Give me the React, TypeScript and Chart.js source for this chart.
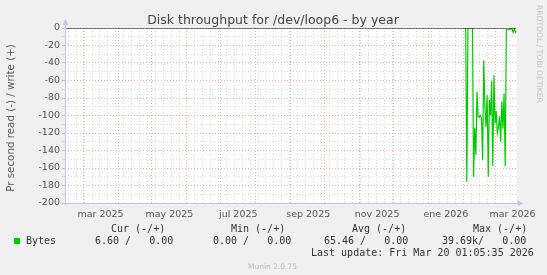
import React, { useEffect, useRef } from 'react';
import { Chart, registerables } from 'chart.js';

Chart.register(...registerables);

// ---- texts ----
const TITLE = 'Disk throughput for /dev/loop6 - by year';
const Y_LABEL = 'Pr second read (-) / write (+)';
const SIDE_TEXT = 'RRDTOOL / TOBI OETIKER';
const FOOTER = 'Munin 2.0.75';
const LAST_UPDATE = 'Last update: Fri Mar 20 01:05:35 2026';
const SERIES_NAME = 'Bytes';
const LEGEND_HEADERS = ['Cur (-/+)', 'Min (-/+)', 'Avg (-/+)', 'Max (-/+)'];
const LEGEND_VALUES = ['6.60 /   0.00', '0.00 /   0.00', '65.46 /   0.00', '39.69k/   0.00'];

// ---- x axis: days since graph start (2025-02-13 01:05), 400-day window ----
const X_MIN = 0;
const X_MAX = 400;
const monthStartDays = [16, 47, 77, 108, 138, 169, 200, 230, 261, 291, 322, 353, 381];
const monthLabelDays = [31.5, 92.5, 153.5, 215.5, 276.5, 337.5, 396.5];
const monthLabels = ['mar 2025', 'may 2025', 'jul 2025', 'sep 2025', 'nov 2025', 'ene 2026', 'mar 2026'];
const firstWeekDay = 3;

// ---- y axis ----
const Y_MIN = -200;
const Y_MAX = 0;
const Y_STEP = 10;
const Y_LABEL_STEP = 20;

// ---- series (read is drawn negative) ----
const readDays = [
  355, 356, 357, 358, 359, 360, 361, 362, 363, 364, 365, 366, 367, 368, 369, 370,
  371, 372, 373, 374, 375, 376, 377, 378, 379, 380, 381, 382, 383, 384, 385, 386,
  387, 388, 389, 390, 391, 392, 393, 394, 395, 396, 397, 398, 399, 400,
];
const readValues = [
  0, -176, 0, 0, 0, 0, 0, -170, -114, -145, -73, -101, -102, -100, -103, -151,
  -37, -90, -113, -77, -170, -82, -100, -61, -158, -54, -109, -95, -120, -113, -101, -130,
  -84, -115, -75, -158, -2, -2, -2, -2, -1, -1, -5, -1, -5, -3,
];
const zeroLineDays = [X_MIN, X_MAX];
const zeroLineValues = [0, 0];

const GREEN = '#00CC00';
const MAJOR_GRID = 'rgba(235,140,140,0.7)';
const MINOR_GRID = 'rgba(195,195,195,0.6)';
const AXIS = '#C4C4F0';
const TEXT = '#555555';
const SANS = "'DejaVu Sans', sans-serif";
const MONO = "'DejaVu Sans Mono', monospace";

type XTick = { value: number; kind: 'month' | 'week' | 'label' };

function buildXTicks(): XTick[] {
  const ticks: XTick[] = [];
  const monthSet = new Set(monthStartDays);
  for (let d = firstWeekDay; d <= X_MAX; d += 7) {
    if (!monthSet.has(d)) ticks.push({ value: d, kind: 'week' });
  }
  monthStartDays.forEach((d) => ticks.push({ value: d, kind: 'month' }));
  monthLabelDays.forEach((d) => ticks.push({ value: d, kind: 'label' }));
  ticks.sort((a, b) => a.value - b.value);
  return ticks;
}

const decorPlugin = {
  id: 'decor',
  beforeDraw(chart: any) {
    const { ctx, chartArea: a } = chart;
    ctx.save();
    ctx.fillStyle = '#F0F0F0';
    ctx.fillRect(0, 0, chart.width, chart.height);
    ctx.fillStyle = '#FFFFFF';
    ctx.fillRect(a.left, a.top, a.right - a.left, a.bottom - a.top);
    ctx.restore();
  },
  afterDraw(chart: any) {
    const { ctx, chartArea: a } = chart;
    ctx.save();
    // axes with arrows
    ctx.strokeStyle = AXIS;
    ctx.fillStyle = AXIS;
    ctx.lineWidth = 1;
    const L = Math.round(a.left) + 0.5;
    const B = Math.round(a.bottom) + 0.5;
    ctx.beginPath();
    ctx.moveTo(L, B + 2);
    ctx.lineTo(L, a.top - 4);
    ctx.moveTo(L - 2, B);
    ctx.lineTo(a.right + 2, B);
    ctx.stroke();
    ctx.beginPath();
    ctx.moveTo(L, a.top - 9);
    ctx.lineTo(L - 3, a.top - 3);
    ctx.lineTo(L + 3, a.top - 3);
    ctx.closePath();
    ctx.fill();
    ctx.beginPath();
    ctx.moveTo(a.right + 7, B);
    ctx.lineTo(a.right + 1, B - 3);
    ctx.lineTo(a.right + 1, B + 3);
    ctx.closePath();
    ctx.fill();

    // title
    ctx.fillStyle = '#444444';
    ctx.font = `12.5px ${SANS}`;
    ctx.textAlign = 'center';
    ctx.textBaseline = 'alphabetic';
    ctx.fillText(TITLE, 273, 24);

    // y label
    ctx.save();
    ctx.translate(14, 118);
    ctx.rotate(-Math.PI / 2);
    ctx.fillStyle = TEXT;
    ctx.font = `10.3px ${SANS}`;
    ctx.textAlign = 'center';
    ctx.fillText(Y_LABEL, 0, 0);
    ctx.restore();

    // side text
    ctx.save();
    ctx.translate(536.5, 5);
    ctx.rotate(Math.PI / 2);
    ctx.fillStyle = '#C4C4C4';
    ctx.font = `7.6px ${SANS}`;
    ctx.textAlign = 'left';
    ctx.fillText(SIDE_TEXT, 0, 0);
    ctx.restore();

    // legend
    ctx.font = `10px ${MONO}`;
    ctx.fillStyle = '#333333';
    ctx.textAlign = 'left';
    const headerX = [111, 231, 352, 473];
    const valueX = [95, 213, 324, 442];
    LEGEND_HEADERS.forEach((t, i) => ctx.fillText(t, headerX[i], 232));
    ctx.fillText(SERIES_NAME, 26, 244);
    LEGEND_VALUES.forEach((t, i) => ctx.fillText(t, valueX[i], 244));
    ctx.fillText(LAST_UPDATE, 311, 256);
    ctx.fillStyle = GREEN;
    ctx.fillRect(14, 238, 6, 6);

    // footer
    ctx.fillStyle = '#BBBBBB';
    ctx.font = `7.5px ${SANS}`;
    ctx.textAlign = 'center';
    ctx.fillText(FOOTER, 272.5, 269);
    ctx.restore();
  },
};

export default function App() {
  const ref = useRef<HTMLCanvasElement | null>(null);

  useEffect(() => {
    if (!ref.current) return;
    const xTicks = buildXTicks();
    const kindOf = new Map<number, string>(xTicks.map((t) => [t.value, t.kind]));
    const labelOf = new Map<number, string>(monthLabelDays.map((d, i) => [d, monthLabels[i]]));

    const chart = new Chart(ref.current, {
      type: 'line',
      data: {
        datasets: [
          {
            label: 'zero',
            data: zeroLineDays.map((d, i) => ({ x: d, y: zeroLineValues[i] })),
            borderColor: '#000000',
            borderWidth: 1,
            pointRadius: 0,
          },
          {
            label: SERIES_NAME,
            data: readDays.map((d, i) => ({ x: d, y: readValues[i] })),
            borderColor: GREEN,
            borderWidth: 1.2,
            pointRadius: 0,
            tension: 0,
          },
        ],
      },
      options: {
        animation: false,
        responsive: false,
        devicePixelRatio: 1,
        layout: { padding: { left: 0, right: 30.5, top: 28, bottom: 0 } },
        plugins: {
          legend: { display: false },
          tooltip: { enabled: false },
          title: { display: false },
        },
        scales: {
          x: {
            type: 'linear',
            min: X_MIN,
            max: X_MAX,
            afterFit: (s: any) => {
              s.height = 72;
            },
            afterBuildTicks: (s: any) => {
              s.ticks = xTicks.map((t) => ({ value: t.value }));
            },
            ticks: {
              autoSkip: false,
              maxRotation: 0,
              minRotation: 0,
              padding: 6,
              color: TEXT,
              font: { family: SANS, size: 9.5 },
              callback: (v: any) => labelOf.get(Number(v)) ?? '',
            },
            grid: {
              drawTicks: false,
              lineWidth: 1,
              color: (c: any) => {
                const k = kindOf.get(c.tick?.value);
                if (k === 'month') return MAJOR_GRID;
                if (k === 'week') return MINOR_GRID;
                return 'rgba(0,0,0,0)';
              },
            },
            border: { display: false, dash: [1, 2] },
          },
          y: {
            type: 'linear',
            min: Y_MIN,
            max: Y_MAX,
            afterFit: (s: any) => {
              s.width = 65;
            },
            ticks: {
              stepSize: Y_STEP,
              autoSkip: false,
              padding: 2,
              color: TEXT,
              font: { family: SANS, size: 9.5 },
              callback: (v: any) => (Number(v) % Y_LABEL_STEP === 0 ? String(v) : ''),
            },
            grid: {
              drawTicks: true,
              tickLength: 3,
              lineWidth: 1,
              color: (c: any) => (c.tick && c.tick.value % Y_LABEL_STEP === 0 ? MAJOR_GRID : MINOR_GRID),
            },
            border: { display: false, dash: [1, 2] },
          },
        },
      },
      plugins: [decorPlugin],
    } as any);

    return () => chart.destroy();
  }, []);

  return (
    <div style={{ position: 'fixed', left: 0, top: 0, width: 547, height: 275, background: '#F0F0F0' }}>
      <canvas ref={ref} width={547} height={275} style={{ display: 'block', width: 547, height: 275 }} />
    </div>
  );
}
